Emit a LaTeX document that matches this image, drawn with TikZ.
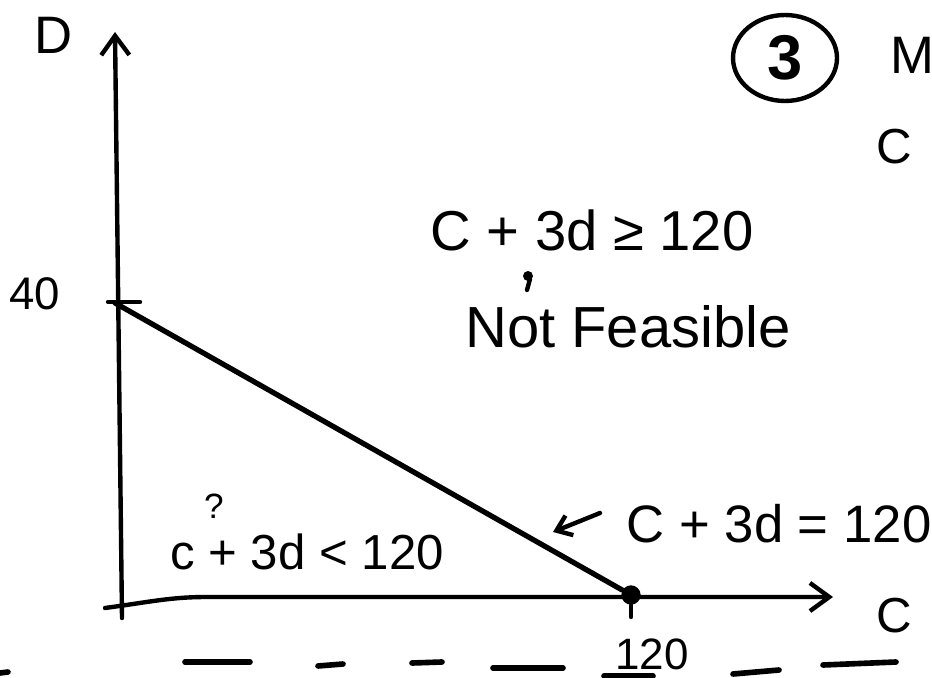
\documentclass[tikz,border=0pt]{standalone}
\usepackage{fontspec}
\setmainfont{Liberation Sans}
\usetikzlibrary{arrows.meta}
\usetikzlibrary{shapes.geometric}
\tikzstyle{sketch}=[x=0.02cm, y=-0.02cm, line cap=round, line join=round]
\tikzstyle{lbl}=[inner sep=0pt, anchor=center]
\tikzstyle{axis}=[line width=2.5pt, -{Straight Barb[length=11pt, width=16pt]}]
\tikzstyle{bound}=[line width=3pt]
\tikzstyle{tick}=[line width=2.5pt]
\tikzstyle{pt}=[circle, fill=black, inner sep=0pt, minimum size=11pt]
\tikzstyle{badge}=[ellipse, draw, line width=2.5pt, inner sep=0pt, minimum width=2.08cm, minimum height=1.72cm]
\tikzstyle{note}=[line width=2.5pt, -{Straight Barb[length=8pt, width=12pt]}]
\tikzstyle{stroke}=[line width=3.2pt]
\newcommand{\hand}[1]{\fontsize{#1}{#1}\selectfont}

\begin{document}
\begin{tikzpicture}[sketch]
	\useasboundingbox (0,0) rectangle (932,678);
	%% axes
	\coordinate (ybot) at (122,618);
	\coordinate (ytop) at (115,32);
	\coordinate (xleft) at (105,608);
	\coordinate (xright) at (833,597);
	\draw[axis] (ybot) -- (ytop);
	\draw[axis] (xleft) .. controls (150,602) and (170,597) .. (207,597) -- (xright);
	\draw (54,35) node[lbl, font=\hand{30}] (dlab) {D};
	\draw (894,616) node[lbl, font=\hand{28}] (clab) {C};
	%%
	\draw (35,294) node[lbl, font=\hand{26}] (forty) {40};
	\coordinate (p40) at (115,303);
	\coordinate (t40) at (140,302);
	\draw[tick] (108,302) -- (t40);
	%%
	\draw (631,595) node[pt] (p120) {};
	\coordinate (t120) at (631,617);
	\draw[tick] (p120) -- (t120);
	\draw (652,654) node[lbl, font=\hand{25}] (val) {120};
	%%%%%%
	\draw[bound] (p40) -- (p120);
	%%%%%%
	\draw (592,230) node[lbl, font=\hand{32}] (above) {C + 3d ≥ 120};
	\fill (528,276) circle (5);
	\draw[tick] (530,279) -- (527,290);
	\draw (628,327) node[lbl, font=\hand{33}] (nf) {Not Feasible};
	%%
	\draw (307,552) node[lbl, font=\hand{28}] (below) {c + 3d < 120};
	\draw (214,506) node[lbl, font=\hand{20}] (query) {?};
	%%
	\draw (779,524) node[lbl, font=\hand{30}] (eq) {C + 3d = 120};
	\coordinate (arrS) at (600,513);
	\coordinate (arrE) at (553,532);
	\draw[note] (arrS) -- (arrE);
	%%%%%%
	\draw (785,58) node[badge, font=\hand{36}\bfseries] (num) {3};
	\draw (912,55) node[lbl, font=\hand{30}] (mlab) {M};
	\draw (894,147) node[lbl, font=\hand{28}] (cright) {C};
	%% dashes along the bottom
	\foreach \a/\b/\c/\d in {0/673/8/672, 185/662/250/662, 318/666/343/664, 412/663/442/662, 493/668/563/668, 604/676/653/676, 733/674/779/670, 823/665/896/662}
		\draw[stroke] (\a,\b) -- (\c,\d);
\end{tikzpicture}
\end{document}
